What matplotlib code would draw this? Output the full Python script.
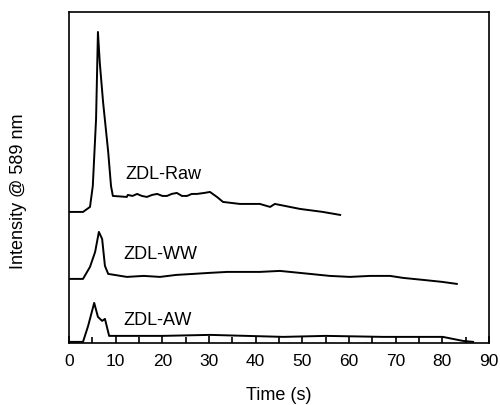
import numpy as np
import matplotlib.pyplot as plt
from matplotlib.ticker import MultipleLocator

plt.rcParams['font.family'] = ['Liberation Sans', 'DejaVu Sans']

# ZDL-Raw trace (time in s, intensity in arbitrary offset units)
t_raw = [0.0, 3.0, 4.5, 5.1, 5.8, 6.2, 6.6, 7.3, 8.4, 9.0, 9.4, 12.4, 12.6,
         13.6, 14.6, 15.6, 16.7, 17.8, 18.9, 20.0, 21.0, 22.0, 23.1, 24.2,
         25.3, 26.3, 27.4, 29.0, 30.2, 31.7, 33.0, 36.6, 40.9,
         43.1, 44.1, 49.5, 54.4, 58.1]
i_raw = [131, 131, 136, 157, 224, 311, 280, 241, 191, 157, 147, 146, 148,
         147, 149, 147, 146, 148, 149, 147, 147, 149, 150, 147,
         147, 149, 149, 150, 151, 146, 141, 139, 139,
         136, 139, 134, 131, 128]

# ZDL-WW trace
t_ww = [0.0, 3.0, 4.5, 5.6, 6.4, 7.1, 7.7, 8.4, 12.4, 16.0, 19.5, 23.0, 26.6,
        30.0, 33.9, 37.5, 40.9, 45.2, 49.5, 55.9, 60.2, 64.5, 68.8, 71.6,
        75.9, 80.0, 83.1]
i_ww = [64, 64, 76, 91, 111, 104, 77, 69, 66, 67, 66, 68, 69,
        70, 71, 71, 71, 72, 70, 67, 66, 67, 67, 65,
        63, 61, 59]

# ZDL-AW trace
t_aw = [0.0, 3.0, 4.1, 5.4, 6.2, 7.1, 7.7, 8.6, 10.3, 20.0, 30.2, 45.9, 55.0,
        67.3, 80.1, 84.4, 86.6]
i_aw = [1, 1, 17, 40, 26, 22, 24, 7, 7, 7, 8, 6, 7, 6, 6, 2, 1]

labels = ['ZDL-Raw', 'ZDL-WW', 'ZDL-AW']
label_pos = [(12.0, 169), (11.6, 89), (11.6, 23)]

fig = plt.figure(figsize=(5.0, 4.06), dpi=100)
ax = fig.add_axes([0.138, 0.153, 0.84, 0.815])

for t, y in [(t_raw, i_raw), (t_ww, i_ww), (t_aw, i_aw)]:
    ax.plot(t, y, color='k', lw=1.4)

for lab, (x, y) in zip(labels, label_pos):
    ax.text(x, y, lab, fontsize=13, va='center', ha='left')

ax.set_xlim(0, 90)
ax.set_ylim(0, 331)
ax.xaxis.set_major_locator(MultipleLocator(10))
ax.xaxis.set_minor_locator(MultipleLocator(5))
ax.tick_params(axis='x', which='both', direction='in', labelsize=12.5, pad=7)
ax.tick_params(axis='x', which='major', length=5, width=1.2)
ax.tick_params(axis='x', which='minor', length=4, width=1.2)
ax.set_yticks([])
for s in ax.spines.values():
    s.set_linewidth(1.2)

ax.set_xlabel('Time (s)', fontsize=13, labelpad=13)
ax.set_ylabel('Intensity @ 589 nm', fontsize=13)
ax.yaxis.set_label_coords(-0.10, 0.462)

fig.savefig('out.png', dpi=100)
